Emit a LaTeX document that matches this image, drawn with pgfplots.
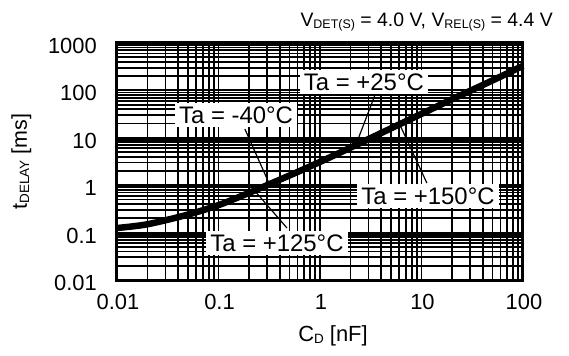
\documentclass[border=0pt]{standalone}
\usepackage{pgfplots}
\pgfplotsset{compat=1.18}
\usepackage{fontspec}
\setmainfont{Liberation Sans}
\newcommand{\sub}[1]{\raisebox{-0.1em}{\fontsize{13.5}{13}\selectfont #1}}
\newcommand{\subb}[1]{\raisebox{-0.1em}{\fontsize{12.5}{13}\selectfont #1}}
\begin{document}
\begin{tikzpicture}
\begin{axis}[
  name=ax, at={(0,0)}, anchor=south west,
  scale only axis, width=406bp, height=237bp,
  xmode=log, ymode=log,
  xmin=0.01, xmax=100, ymin=0.01, ymax=1000,
  xtick={0.01,0.1,1,10,100}, xticklabels={0.01,0.1,1,10,100},
  ytick={0.01,0.1,1,10,100,1000}, yticklabels={0.01,0.1,1,10,100,1000},
  grid=both,
  major grid style={black, line width=1.9bp},
  minor grid style={black, line width=1.8bp},
  major tick length=0pt, minor tick length=0pt,
  axis line style={black, line width=3bp},
  ticklabel style={font=\fontsize{22}{24}\selectfont, inner sep=0pt},
  xticklabel style={anchor=base, yshift=-29bp, xshift=1bp},
  yticklabel style={anchor=east, xshift=-20bp, yshift=-3bp},
  xlabel={C\sub{D} [nF]},
  xlabel style={font=\fontsize{22}{22}\selectfont, at={(axis description cs:0.5,0)}, anchor=base, yshift=-61bp, xshift=13bp, inner sep=0pt},
  ylabel={t\sub{DELAY} [ms]},
  ylabel style={font=\fontsize{21.5}{22}\selectfont, at={([xshift=-90bp]axis description cs:0,0.5)}, anchor=base, inner sep=0pt},
  clip=false,
]
\addplot[black, line width=6.5bp, line join=round, smooth] coordinates {
  (0.01,0.125) (0.02,0.15) (0.05,0.24) (0.1,0.38) (0.2,0.69) (0.5,1.6)
  (1,3.1) (2,6.2) (5,15.8) (10,32) (20,65) (50,162) (100,330)
};
\draw[black, line width=1.2bp] (axis cs:3.48,80) -- (axis cs:2.21,6.3);
\draw[black, line width=1.2bp] (axis cs:0.182,15.3) -- (axis cs:0.321,1.0);
\draw[black, line width=1.2bp] (axis cs:0.473,0.125) -- (axis cs:0.229,0.75);
\draw[black, line width=1.2bp] (axis cs:11.3,1.11) -- (axis cs:6.14,18.6);
\tikzset{ann/.style={fill=white, inner xsep=4bp, inner ysep=3.5bp, font=\fontsize{24}{26}\selectfont}}
\node[ann] at (axis cs:2.71,150) {Ta = +25°C};
\node[ann] at (axis cs:0.149,30) {Ta = -40°C};
\node[ann] at (axis cs:0.377,0.060) {Ta = +125°C};
\node[ann] at (axis cs:11.6,0.59) {Ta = +150°C};
\end{axis}
\node[anchor=base east, inner sep=0pt, font=\fontsize{19.5}{22}\selectfont] at ([shift={(30bp,16bp)}]ax.north east) {V\subb{DET(S)} = 4.0 V, V\subb{REL(S)} = 4.4 V};
\path ([shift={(-117bp,-76bp)}]ax.south west) rectangle ([shift={(46bp,43bp)}]ax.north east);
\end{tikzpicture}
\end{document}
